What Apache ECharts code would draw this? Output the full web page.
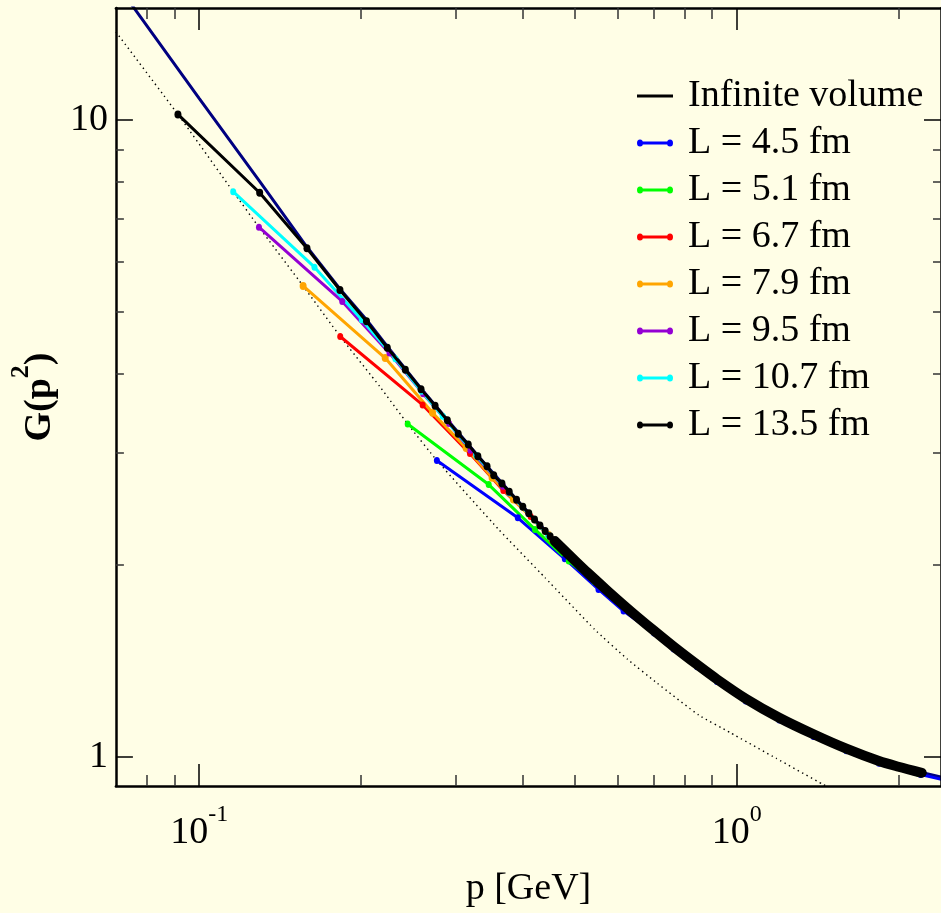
<!DOCTYPE html>
<html><head><meta charset="utf-8">
<script src="https://cdn.jsdelivr.net/npm/echarts@6/dist/echarts.min.js"></script>
<style>html,body{margin:0;padding:0;background:#fffee6;}#c{width:941px;height:913px;}</style>
</head><body><div id="c"></div>
<script>
// ---------- data ----------
const xMajorTicks = [0.1, 1];
const xMinorTicks = [0.08, 0.09, 0.2, 0.3, 0.4, 0.5, 0.6, 0.7, 0.8, 0.9, 2];
const yMajorTicks = [1, 10];
const yMinorTicks = [2, 3, 4, 5, 6, 7, 8, 9];

const legendNames = ['Infinite volume', 'L = 4.5 fm', 'L = 5.1 fm', 'L = 6.7 fm', 'L = 7.9 fm', 'L = 9.5 fm', 'L = 10.7 fm', 'L = 13.5 fm'];

// infinite volume curve
const pInf = [0.070, 0.100, 0.1296, 0.1587, 0.1828, 0.2048, 0.2239, 0.2587, 0.2896, 0.3300, 0.3775, 0.4098, 0.4857, 0.5755, 0.7020, 0.8437, 1.043, 1.202, 1.385, 1.596, 1.838, 2.179, 2.40];
const gInf = [16.43, 10.82, 8.01, 6.32, 5.43, 4.86, 4.41, 3.79, 3.385, 2.97, 2.612, 2.42, 2.081, 1.823, 1.580, 1.398, 1.235, 1.153, 1.087, 1.032, 0.987, 0.948, 0.930];

// dotted curve
const pDot = [0.070, 0.0913, 0.1157, 0.1292, 0.1561, 0.1830, 0.2167, 0.2443, 0.2769, 0.3607, 0.440, 0.5439, 0.6267, 0.7117, 0.8500, 0.9719, 1.185, 1.445, 1.50];
const gDot = [13.76, 10.21, 7.72, 6.79, 5.49, 4.573, 3.818, 3.333, 2.920, 2.276, 1.912, 1.586, 1.423, 1.305, 1.163, 1.092, 0.9946, 0.906, 0.893];

// L = 4.5 fm
const p45 = [0.2769, 0.3916, 0.4789, 0.5534, 0.616, 0.702, 0.764, 0.844, 0.919, 1.04, 1.20, 1.39, 1.60, 1.84, 2.20, 2.50];
const g45 = [2.920, 2.374, 2.047, 1.832, 1.694, 1.565, 1.477, 1.385, 1.313, 1.224, 1.143, 1.076, 1.022, 0.977, 0.938, 0.915];
// L = 5.1 fm
const p51 = [0.2443, 0.3457, 0.4215, 0.4871, 0.5436, 0.636, 0.702, 0.764, 0.844, 0.919, 1.04, 1.20, 1.39, 1.60, 1.84, 2.18];
const g51 = [3.333, 2.677, 2.276, 2.030, 1.885, 1.684, 1.570, 1.482, 1.389, 1.317, 1.228, 1.146, 1.080, 1.025, 0.980, 0.942];
// L = 6.7 fm
const p67 = [0.1830, 0.2605, 0.319, 0.368, 0.4137, 0.4531, 0.529, 0.576, 0.636, 0.702, 0.764, 0.844, 0.919, 1.04, 1.20, 1.39, 1.60, 1.84, 2.18];
const g67 = [4.573, 3.57, 2.994, 2.62, 2.386, 2.195, 1.936, 1.814, 1.685, 1.572, 1.483, 1.390, 1.319, 1.229, 1.147, 1.081, 1.026, 0.981, 0.943];
// L = 7.9 fm
const p79 = [0.1561, 0.2219, 0.2718, 0.3138, 0.3508, 0.3843, 0.446, 0.486, 0.529, 0.576, 0.636, 0.702, 0.764, 0.844, 0.919, 1.04, 1.20, 1.39, 1.60, 1.84, 2.18];
const g79 = [5.49, 4.23, 3.47, 3.056, 2.745, 2.536, 2.232, 2.077, 1.944, 1.821, 1.692, 1.578, 1.489, 1.396, 1.324, 1.234, 1.152, 1.085, 1.030, 0.985, 0.947];
// L = 9.5 fm
const p95 = [0.1292, 0.1846, 0.226, 0.261, 0.2918, 0.3197, 0.3675, 0.410, 0.486, 0.576, 0.702, 0.844, 1.04, 1.20, 1.39, 1.60, 1.84, 2.18];
const g95 = [6.79, 5.19, 4.306, 3.719, 3.337, 3.031, 2.66, 2.410, 2.071, 1.815, 1.573, 1.392, 1.230, 1.149, 1.082, 1.027, 0.982, 0.944];
// L = 10.7 fm
const p107 = [0.1157, 0.1639, 0.2007, 0.2318, 0.2592, 0.2839, 0.3278, 0.3775, 0.446, 0.529, 0.636, 0.764, 0.919, 1.04, 1.20, 1.39, 1.60, 1.84, 2.18];
const g107 = [7.72, 5.875, 4.86, 4.22, 3.752, 3.428, 2.973, 2.60, 2.228, 1.939, 1.688, 1.485, 1.320, 1.230, 1.149, 1.082, 1.027, 0.982, 0.944];
// L = 13.5 fm (resolved points)
const p135 = [0.0913, 0.1296, 0.1587, 0.1828, 0.2048, 0.2239, 0.2419, 0.2587, 0.2748, 0.2896, 0.3034, 0.3167, 0.3300, 0.3432, 0.3532, 0.3659, 0.3775, 0.3895, 0.4001, 0.4105, 0.4207, 0.4306, 0.4403, 0.4497, 0.4590, 0.4681, 0.4770, 0.4858, 0.4944, 0.5028];
const g135 = [10.21, 7.69, 6.29, 5.41, 4.83, 4.39, 4.055, 3.78, 3.56, 3.377, 3.218, 3.093, 2.965, 2.860, 2.768, 2.687, 2.608, 2.534, 2.471, 2.413, 2.359, 2.308, 2.263, 2.220, 2.182, 2.145, 2.111, 2.079, 2.051, 2.025];
// L = 13.5 fm (dense region, markers merge into a thick band)
const p135d = [0.4590, 0.5028, 0.529, 0.576, 0.636, 0.702, 0.764, 0.844, 0.919, 1.04, 1.20, 1.39, 1.60, 1.84, 2.00, 2.21];
const g135d = [2.182, 2.025, 1.944, 1.821, 1.692, 1.578, 1.489, 1.396, 1.324, 1.234, 1.152, 1.085, 1.030, 0.985, 0.965, 0.944];

// ---------- chart ----------
const FONT = 'Liberation Serif';
const zip = (a, b) => a.map((v, i) => [v, b[i]]);
const X_MIN = 0.07, X_MAX = 2.4, Y_MIN = 0.9, Y_MAX = 15;

const dotsIcon = 'path://M0,3.5a3,3.5 0 1,1 6,0a3,3.5 0 1,1 -6,0zM30,3.5a3,3.5 0 1,1 6,0a3,3.5 0 1,1 -6,0zM5,2h26v3h-26z';
const lineIcon = 'path://M0,2h36v3h-36z';

function dataSeries(name, p, g, color, size, z) {
  return {
    name: name, type: 'line', data: zip(p, g), z: z,
    xAxisIndex: 0, yAxisIndex: 0,
    symbol: 'circle', symbolSize: size || [6, 7], showSymbol: true,
    lineStyle: { color: color, width: 3 }, itemStyle: { color: color },
    emphasis: { disabled: true }, animation: false
  };
}

function xAxisDef(pos, ticks, len, withLabels, showLine) {
  return {
    type: 'log', logBase: 10, min: X_MIN, max: X_MAX, position: pos, z: 10,
    axisLine: { show: showLine, onZero: false, lineStyle: { color: '#000', width: 2.5 } },
    axisTick: { show: true, inside: true, length: len, customValues: ticks, lineStyle: { color: len > 15 ? '#000' : '#333', width: 1.5 } },
    axisLabel: withLabels ? {
      show: true, customValues: ticks, margin: 17,
      formatter: v => '{b|10}{s|' + Math.round(Math.log10(v)) + '}',
      rich: {
        b: { fontFamily: FONT, fontSize: 38, color: '#000', lineHeight: 60 },
        s: { fontFamily: FONT, fontSize: 24, color: '#000', verticalAlign: 'top' }
      }
    } : { show: false },
    splitLine: { show: false },
    name: withLabels ? 'p [GeV]' : '', nameLocation: 'middle', nameGap: 84,
    nameTextStyle: { fontFamily: FONT, fontSize: 38, color: '#000' }
  };
}
function yAxisDef(pos, ticks, len, withLabels, showLine) {
  return {
    type: 'log', logBase: 10, min: Y_MIN, max: Y_MAX, position: pos, z: 10,
    axisLine: { show: showLine, onZero: false, lineStyle: { color: '#000', width: 2.5 } },
    axisTick: { show: true, inside: true, length: len, customValues: ticks, lineStyle: { color: len > 12 ? '#000' : '#333', width: 1.5 } },
    axisLabel: withLabels ? {
      show: true, customValues: ticks, margin: 8,
      fontFamily: FONT, fontSize: 38, color: '#000',
      formatter: v => String(v)
    } : { show: false },
    splitLine: { show: false },
    name: withLabels ? '{g|G(p}{s|2}{g|)}' : '', nameLocation: 'middle', nameGap: 40,
    nameTextStyle: {
      rich: {
        g: { fontFamily: FONT, fontSize: 38, fontWeight: 'bold', color: '#000', lineHeight: 64 },
        s: { fontFamily: FONT, fontSize: 26, fontWeight: 'bold', color: '#000', verticalAlign: 'top' }
      }
    }
  };
}

const chart = echarts.init(document.getElementById('c'), null, { renderer: 'canvas' });
chart.setOption({
  backgroundColor: '#fffee6',
  animation: false,
  grid: { left: 113.5, top: 8, right: -5, bottom: 126.3 },
  legend: {
    orient: 'vertical', left: 632, top: 72, itemWidth: 36, itemHeight: 7, itemGap: 9,
    selectedMode: false,
    textStyle: { fontFamily: FONT, fontSize: 38, color: '#000', padding: [0, 0, 0, 10] },
    data: [
      { name: legendNames[0], icon: lineIcon, itemStyle: { color: '#000' } },
      { name: legendNames[1], icon: dotsIcon },
      { name: legendNames[2], icon: dotsIcon },
      { name: legendNames[3], icon: dotsIcon },
      { name: legendNames[4], icon: dotsIcon },
      { name: legendNames[5], icon: dotsIcon },
      { name: legendNames[6], icon: dotsIcon },
      { name: legendNames[7], icon: dotsIcon }
    ]
  },
  xAxis: [
    xAxisDef('bottom', xMajorTicks, 22, true, true),
    xAxisDef('bottom', xMinorTicks, 11, false, false),
    xAxisDef('top', xMajorTicks, 22, false, true),
    xAxisDef('top', xMinorTicks, 11, false, false)
  ],
  yAxis: [
    yAxisDef('left', yMajorTicks, 17, true, true),
    yAxisDef('left', yMinorTicks, 8, false, false),
    yAxisDef('right', yMajorTicks, 17, false, true),
    yAxisDef('right', yMinorTicks, 8, false, false)
  ],
  series: [
    {
      name: legendNames[0], type: 'line', data: zip(pInf, gInf), showSymbol: false, z: 1,
      lineStyle: { color: '#000080', width: 3 }, itemStyle: { color: '#000080' },
      emphasis: { disabled: true }
    },
    {
      name: 'dotted', type: 'line', data: zip(pDot, gDot), showSymbol: false, smooth: 0.12, z: 1,
      lineStyle: { color: '#000', width: 1.4, type: [1.4, 3.6] }, itemStyle: { color: '#000' },
      emphasis: { disabled: true }
    },
    dataSeries(legendNames[1], p45, g45, '#0000ff', null, 2),
    dataSeries(legendNames[2], p51, g51, '#00ff00', null, 2),
    dataSeries(legendNames[3], p67, g67, '#ff0000', null, 2),
    dataSeries(legendNames[4], p79, g79, '#ffa500', [7, 8], 2),
    dataSeries(legendNames[5], p95, g95, '#9400d3', null, 2),
    dataSeries(legendNames[6], p107, g107, '#00ffff', null, 2),
    {
      name: legendNames[7], type: 'line', data: zip(p135d, g135d), showSymbol: false,
      smooth: 0.3, z: 3,
      lineStyle: { color: '#000', width: 10, cap: 'round', join: 'round' }, itemStyle: { color: '#000' },
      emphasis: { disabled: true }
    },
    dataSeries(legendNames[7], p135, g135, '#000', [7, 8], 4)
  ]
});
</script></body></html>
